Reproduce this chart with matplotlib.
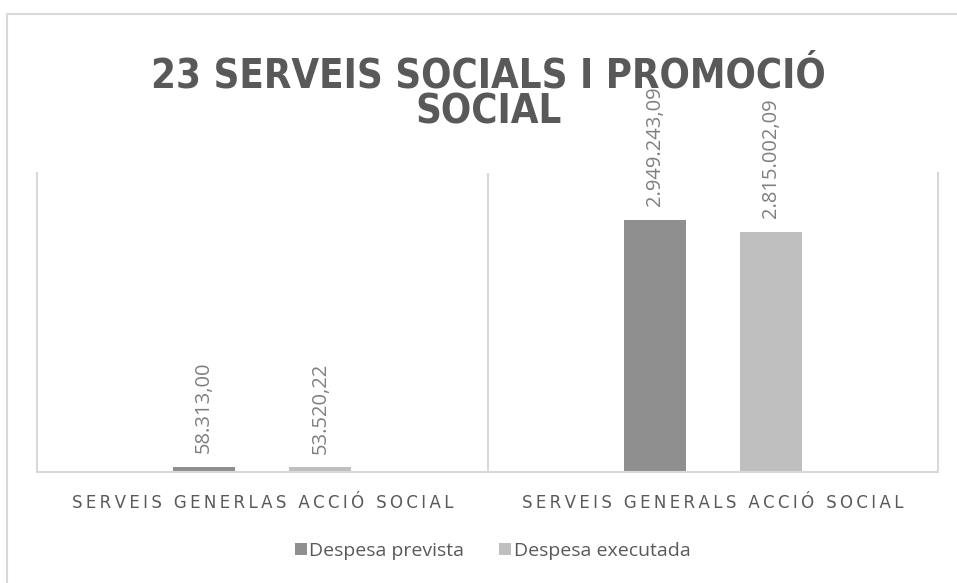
import matplotlib.pyplot as plt
import matplotlib.transforms as mtransforms
from matplotlib.patches import Rectangle
import numpy as np

# chart data
categories = ["SERVEIS GENERLAS ACCIÓ SOCIAL", "SERVEIS GENERALS ACCIÓ SOCIAL"]
series_names = ["Despesa prevista", "Despesa executada"]
prevista = [58313.00, 2949243.09]
executada = [53520.22, 2815002.09]
colors = ["#8f8f8f", "#bfbfbf"]

title_lines = ["23 SERVEIS SOCIALS I PROMOCIÓ", "SOCIAL"]


def fmt(v):
    # 2949243.09 -> 2.949.243,09
    s = "{:,.2f}".format(v)
    return s.replace(",", "X").replace(".", ",").replace("X", ".")


def spaced(txt):
    # fake letter spacing
    return "\u2009".join(txt)


fig = plt.figure(figsize=(9.57, 5.83), dpi=100)

# outer chart border (runs off right/bottom edge)
fig.patches.append(Rectangle((7 / 957, -0.05), 1.0, 1 - 14 / 583 + 0.05,
                             transform=fig.transFigure, fill=False,
                             edgecolor="#d9d9d9", linewidth=1.5))

ax = fig.add_axes([37 / 957, 1 - 472 / 583, (938 - 37) / 957, (472 - 173) / 583])

x = np.arange(len(categories))
w = 0.138
off = 0.129
b1 = ax.bar(x - off, prevista, w, color=colors[0], label=series_names[0])
b2 = ax.bar(x + off, executada, w, color=colors[1], label=series_names[1])

for bars, vals in [(b1, prevista), (b2, executada)]:
    for r, v in zip(bars, vals):
        ax.annotate(fmt(v), (r.get_x() + r.get_width() / 2, v),
                    xytext=(0, 10), textcoords="offset points",
                    rotation=90, ha="center", va="bottom",
                    fontsize=14.5, color="#7f7f7f", family="Open Sans")

ax.set_xlim(-0.5, 1.5)
ax.set_ylim(0, 3500000)
ax.set_xticks([])
ax.set_yticks([])
ax.spines["top"].set_visible(False)
for s in ["left", "right", "bottom"]:
    ax.spines[s].set_color("#d9d9d9")
    ax.spines[s].set_linewidth(1.5)
ax.axvline(0.5, color="#d9d9d9", linewidth=1.5)

trans = mtransforms.blended_transform_factory(ax.transData, ax.transAxes)
for i, c in enumerate(categories):
    ax.text(i, -0.104, spaced(c), transform=trans, ha="center", va="center",
            fontsize=12, color="#595959", family="DejaVu Sans")

# title, two lines as in the original
for line, ypix in zip(title_lines, [76, 113]):
    fig.text(0.51, 1 - ypix / 583, line, ha="center", va="center",
             fontsize=28.7, fontweight="bold", color="#595959",
             family="DejaVu Sans", fontstretch="condensed")

fig.legend(loc="center", bbox_to_anchor=(0.515, 0.055), ncol=2, frameon=False,
           handlelength=0.6, handleheight=0.6, handletextpad=0.15,
           columnspacing=1.8, prop={"family": "Open Sans", "size": 14},
           labelcolor="#595959")

fig.savefig("out.png", dpi=100)
